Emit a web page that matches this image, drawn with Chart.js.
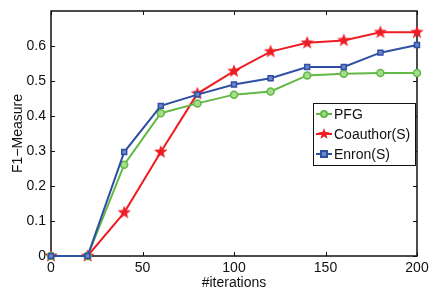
<!DOCTYPE html>
<html>
<head>
<meta charset="utf-8">
<script src="https://cdn.jsdelivr.net/npm/chart.js@4/dist/chart.umd.min.js"></script>
<style>
  html, body { margin: 0; padding: 0; background: #fff; }
  #wrap { width: 433px; height: 292px; }
</style>
</head>
<body>
<div id="wrap"><canvas id="f1Chart" width="433" height="292"></canvas></div>
<script>
// data
var iterations = [0, 20, 40, 60, 80, 100, 120, 140, 160, 180, 200];
var pfg      = [0, 0, 0.261, 0.408, 0.436, 0.461, 0.470, 0.516, 0.521, 0.523, 0.523];
var coauthor = [0, 0, 0.124, 0.297, 0.464, 0.528, 0.584, 0.609, 0.616, 0.639, 0.639];
var enron    = [0, 0, 0.297, 0.429, 0.461, 0.490, 0.508, 0.540, 0.540, 0.581, 0.603];
var xTicks = [0, 50, 100, 150, 200];
var yTicks = [0, 0.1, 0.2, 0.3, 0.4, 0.5, 0.6];

var GREEN = "#62b845", RED = "#ee1d25", BLUE = "#2f4fa2";
var FONT = "'Liberation Sans', Arial, sans-serif";

// filled five point star for the Coauthor markers
function makeStar(r, color) {
  var c = document.createElement("canvas");
  c.width = c.height = r * 2 + 2;
  var g = c.getContext("2d");
  g.translate(r + 1, r + 1);
  g.beginPath();
  for (var i = 0; i < 10; i++) {
    var rad = i % 2 ? r * 0.42 : r;
    var a = -Math.PI / 2 + i * Math.PI / 5;
    g.lineTo(rad * Math.cos(a), rad * Math.sin(a));
  }
  g.closePath();
  g.fillStyle = color;
  g.fill();
  return c;
}
var star = makeStar(7, RED);
var smallStar = makeStar(6, RED);

function pts(arr) {
  return arr.map(function (v, i) { return { x: iterations[i], y: v }; });
}

// frame + inward ticks on all four sides, like the original figure
var framePlugin = {
  id: "frame",
  beforeDatasetsDraw: function (chart) {
    var ctx = chart.ctx, a = chart.chartArea;
    var xs = chart.scales.x, ys = chart.scales.y;
    ctx.save();
    ctx.strokeStyle = "#111";
    ctx.lineWidth = 1.5;
    ctx.strokeRect(a.left, a.top, a.right - a.left, a.bottom - a.top);
    ctx.lineWidth = 1;
    ctx.beginPath();
    xTicks.forEach(function (t) {
      var px = Math.round(xs.getPixelForValue(t)) + 0.5;
      ctx.moveTo(px, a.bottom); ctx.lineTo(px, a.bottom - 4);
      ctx.moveTo(px, a.top); ctx.lineTo(px, a.top + 4);
    });
    yTicks.forEach(function (t) {
      var py = Math.round(ys.getPixelForValue(t)) + 0.5;
      ctx.moveTo(a.left, py); ctx.lineTo(a.left + 4, py);
      ctx.moveTo(a.right, py); ctx.lineTo(a.right - 4, py);
    });
    ctx.stroke();
    ctx.restore();
  },
  afterDraw: function (chart) {
    var ctx = chart.ctx, a = chart.chartArea;
    ctx.save();
    // legend box in the lower right of the plot
    var bx = a.right - 104, by = 103, bw = 102, bh = 62;
    ctx.fillStyle = "#fff";
    ctx.fillRect(bx, by, bw, bh);
    ctx.lineWidth = 1;
    ctx.strokeStyle = "#111";
    ctx.strokeRect(bx + 0.5, by + 0.5, bw, bh);
    ctx.font = "14px " + FONT;
    ctx.textBaseline = "middle";
    chart.data.datasets.forEach(function (ds, i) {
      var y = by + 11 + i * 20;
      ctx.strokeStyle = ds.borderColor;
      ctx.lineWidth = 2;
      ctx.beginPath();
      ctx.moveTo(bx + 3, y); ctx.lineTo(bx + 19, y);
      ctx.stroke();
      if (i === 0) {
        ctx.beginPath(); ctx.arc(bx + 11, y, 3, 0, Math.PI * 2);
        ctx.fillStyle = "#a6dc8c"; ctx.fill(); ctx.stroke();
      } else if (i === 1) {
        ctx.drawImage(smallStar, bx + 11 - 7, y - 7);
      } else {
        ctx.fillStyle = "#6a86cc"; ctx.fillRect(bx + 8, y - 3, 6, 6);
        ctx.strokeRect(bx + 8, y - 3, 6, 6);
      }
      ctx.fillStyle = "#111";
      ctx.fillText(ds.label, bx + 21, y + 1);
    });
    ctx.restore();
  }
};

new Chart(document.getElementById("f1Chart"), {
  type: "line",
  data: {
    datasets: [{
      label: "PFG",
      data: pts(pfg),
      order: 1,
      clip: false,
      borderColor: GREEN,
      backgroundColor: "#a6dc8c",
      pointBorderColor: GREEN,
      pointBackgroundColor: "#a6dc8c",
      pointStyle: "circle",
      pointRadius: 3.5,
      pointBorderWidth: 1.5,
      borderWidth: 2
    }, {
      label: "Coauthor(S)",
      data: pts(coauthor),
      order: 2,
      clip: false,
      borderColor: RED,
      backgroundColor: RED,
      pointStyle: star,
      borderWidth: 2
    }, {
      label: "Enron(S)",
      data: pts(enron),
      order: 0,
      clip: false,
      borderColor: BLUE,
      backgroundColor: "#6a86cc",
      pointBorderColor: BLUE,
      pointBackgroundColor: "#6a86cc",
      pointStyle: "rect",
      pointRadius: 3.5,
      pointBorderWidth: 1.5,
      borderWidth: 2
    }]
  },
  options: {
    responsive: false,
    animation: false,
    layout: { padding: { top: 11, right: 16, left: 6, bottom: 0 } },
    plugins: {
      legend: { display: false },
      tooltip: { enabled: false }
    },
    scales: {
      x: {
        type: "linear",
        min: 0, max: 200,
        afterBuildTicks: function (s) { s.ticks = xTicks.map(function (v) { return { value: v }; }); },
        afterFit: function (s) { s.height = 36; s.paddingLeft = 0; s.paddingRight = 0; },
        grid: { display: false, drawTicks: false },
        border: { display: false },
        ticks: { color: "#111", font: { family: FONT, size: 14 }, padding: 4, maxRotation: 0 },
        title: { display: true, text: "#iterations", color: "#111", font: { family: FONT, size: 14 }, padding: { top: 3, bottom: 0 } }
      },
      y: {
        min: 0, max: 0.7,
        afterBuildTicks: function (s) { s.ticks = yTicks.map(function (v) { return { value: v }; }); },
        afterFit: function (s) { s.width = 45; s.paddingTop = 0; s.paddingBottom = 0; },
        grid: { display: false, drawTicks: false },
        border: { display: false },
        ticks: {
          color: "#111", font: { family: FONT, size: 14 }, padding: 5,
          callback: function (v) { return v === 0 ? "0" : v.toFixed(1); }
        },
        title: { display: true, text: "F1\u2212Measure", color: "#111", font: { family: FONT, size: 14 }, padding: { bottom: 0 } }
      }
    }
  },
  plugins: [framePlugin]
});
</script>
</body>
</html>
